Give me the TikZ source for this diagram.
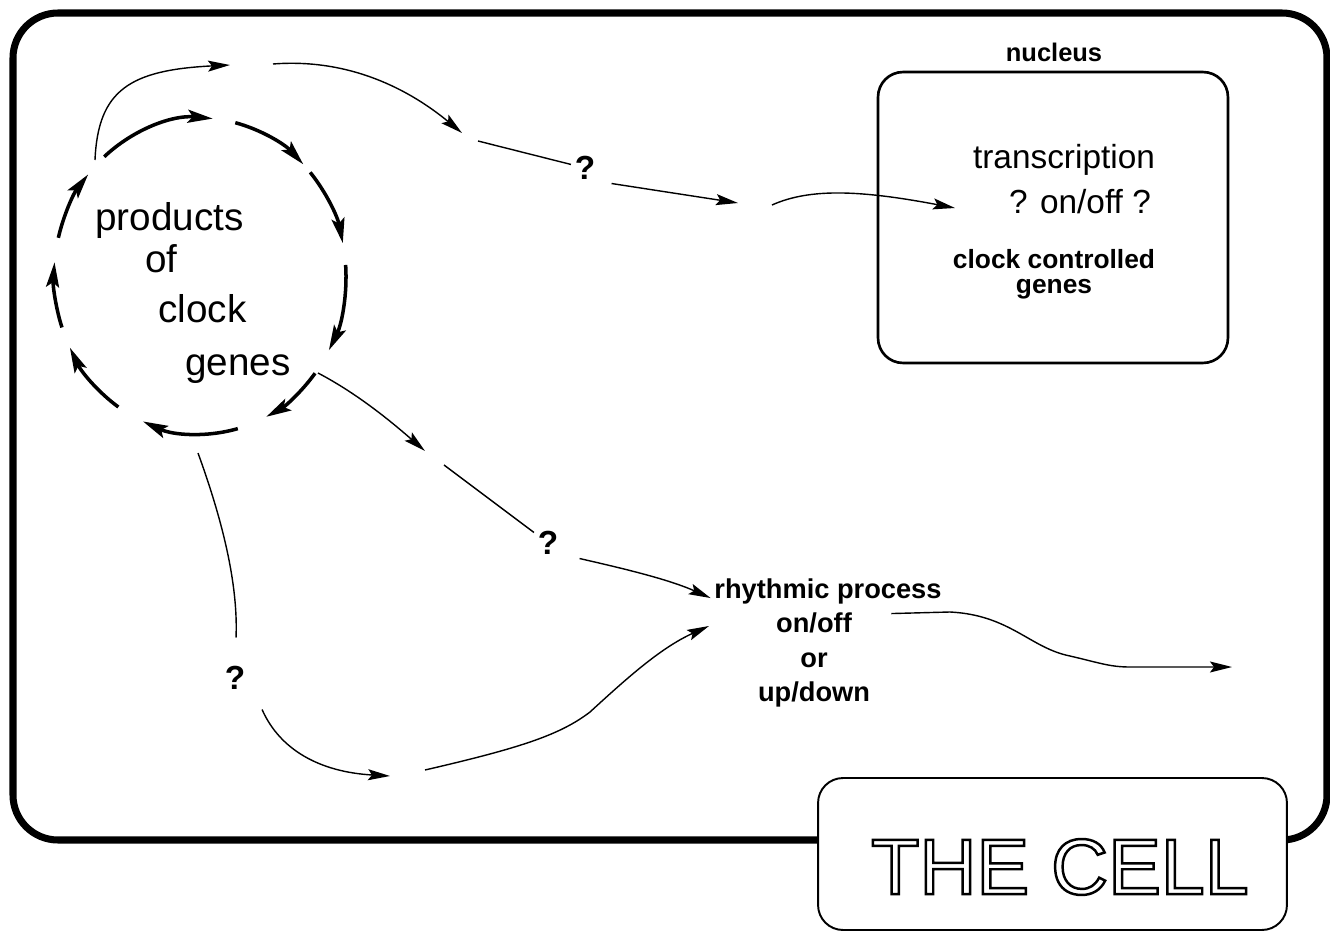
\documentclass[tikz,border=0pt]{standalone}
\usepackage{fontspec}
\setmainfont{Liberation Sans}
\usetikzlibrary{arrows.meta}
\newcommand{\hollow}[1]{\special{pdf:literal direct 1 Tr 1.4 w}#1\special{pdf:literal direct 0 Tr}}

\begin{document}
\begin{tikzpicture}[
  x=0.02cm, y=-0.02cm,
  every node/.style={inner sep=2pt},
  wall/.style={line width=4pt,rounded corners=9mm},
  nucbox/.style={draw,line width=1.5pt,rounded corners=5mm,minimum width=7cm,minimum height=5.82cm},
  cellbox/.style={draw,fill=white,line width=1.1pt,rounded corners=5mm,minimum width=9.38cm,minimum height=3.04cm},
  cyc/.style={line width=2pt,-{Stealth[length=5mm,width=2.6mm,inset=1mm]}},
  link/.style={line width=0.8pt,-{Stealth[length=4.4mm,width=2.2mm,inset=0.8mm]}},
  plain/.style={line width=0.8pt},
  gene/.style={font=\fontsize{22}{26}\selectfont,anchor=base west,inner sep=0pt},
  ask/.style={font=\fontsize{19}{22}\selectfont\bfseries},
  lab/.style={font=\fontsize{15.5}{19.5}\selectfont\bfseries,align=center}
]
\useasboundingbox (0,0) rectangle (1330,933);

% the cell wall and its label
\draw[wall] (13,13) rectangle (1327,840);
\node[cellbox] (cellbox) at (1052.5,854) {};
\node[font=\fontsize{45}{50}\selectfont] (celltext) at (1060,867) {\hollow{THE CELL}};

% nucleus
\node[nucbox] (nuc) at (1053,217.5) {};
\node[font=\fontsize{14.5}{17}\selectfont\bfseries] (nuclab) at (1054,52) {nucleus};
\node[font=\fontsize{19}{22}\selectfont] (transc) at (1064,160) {transcription};
\node[font=\fontsize{19}{22}\selectfont] (onoff) at (1080,202) {? on/off ?};
\node[lab,font=\fontsize{15}{14}\selectfont\bfseries] (ccg) at (1054,274) {clock controlled\\genes};

% clock gene products
\node[gene] (prod) at (95,230) {products};
\node[gene] (of) at (145,272) {of};
\node[gene] (clk) at (158,322) {clock};
\node[gene] (gen) at (185,375) {genes};

\coordinate (ring) at (200,276);
\foreach \a/\b in {229/275,284/315,319/348,356/388,398/423,435/473,484/513,521/545,554/580}
  \draw[cyc] (ring) ++({146*cos(\a)},{158*sin(\a)}) arc[start angle=\a,end angle=\b,x radius=146,y radius=158];

% question marks and output
\node[ask] (q1) at (585,168) {?};
\node[ask] (q2) at (548,543) {?};
\node[ask] (q3) at (235,678) {?};
\node[lab] (rhythm) at (828,591) {rhythmic process};
\node[lab] (rhythmsub) at (814,660) {on/off\\or\\up/down};

% top route to the nucleus
\coordinate (t0) at (95,160);
\coordinate (t1) at (230,65);
\coordinate (t2) at (273,64);
\coordinate (t3) at (462,133);
\coordinate (t4) at (478,141);
\coordinate (t6) at (738,203);
\coordinate (t7) at (772,205);
\coordinate (t8) at (955,208);
\draw[link] (t0) .. controls (98,90) and (130,70) .. (t1);
\draw[link] (t2) .. controls (350,58) and (410,90) .. (t3);
\draw[plain] (t4) -- (q1);
\draw[link] ([xshift=2.5mm]q1.south east) -- (t6);
\draw[link] (t7) .. controls (810,188) and (860,190) .. (t8);

% middle route
\coordinate (m0) at (318,373);
\coordinate (m1) at (425,451);
\coordinate (m2) at (444,465);
\draw[link] (m0) .. controls (360,395) and (395,425) .. (m1);
\draw[plain] (m2) -- (q2);
\draw[link] ([xshift=3.5mm]q2.south east) .. controls (630,570) and (670,580) .. (rhythm.base west);

% lower route
\coordinate (b0) at (198,453);
\coordinate (b3) at (390,776);
\coordinate (b4) at (425,770);
\coordinate (b5) at (709,626);
\draw[plain,shorten >=5mm] (b0) .. controls (226,530) and (238,590) .. (q3.north);
\draw[link] ([shift={(13,16)}]q3.south east) .. controls (280,750) and (320,772) .. (b3);
\draw[link] (b4) .. controls (520,748) and (560,735) .. (590,712) .. controls (625,680) and (660,648) .. (b5);

% output of the rhythmic process
\coordinate (d1) at (1232,667);
\draw[link] ([shift={(-54,6)}]rhythm.south east) -- (950,612) .. controls (1010,615) and (1030,648) .. (1070,656) .. controls (1100,663) and (1110,667) .. (1130,667) -- (d1);
\end{tikzpicture}
\end{document}
